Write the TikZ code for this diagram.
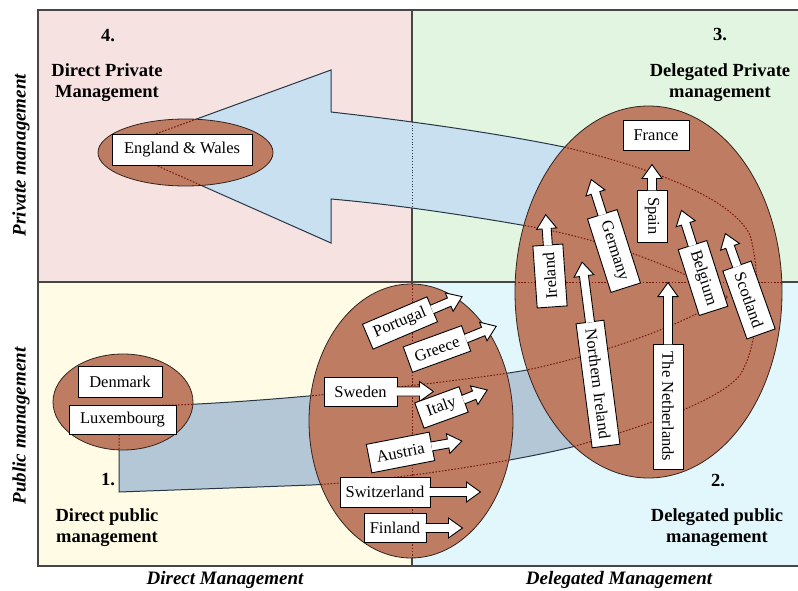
\documentclass[tikz,border=0pt]{standalone}
\usepackage{fontspec}
\setmainfont{Liberation Serif}

\definecolor{qpink}{RGB}{247,226,226}
\definecolor{qgreen}{RGB}{226,245,224}
\definecolor{qyellow}{RGB}{255,251,228}
\definecolor{qcyan}{RGB}{226,247,251}
\definecolor{blob}{RGB}{190,124,98}
\definecolor{blobline}{RGB}{50,35,30}
\definecolor{arrowtop}{RGB}{200,224,240}
\definecolor{arrowlow}{RGB}{180,199,215}
\definecolor{arrowline}{RGB}{40,55,70}
\definecolor{hiddenred}{RGB}{120,25,15}
\definecolor{frameline}{RGB}{70,70,70}

% outline of the large U-turn arrow (band from group 1, back to group 4)
\def\bigarrow{(117,148) -- (331,70) -- (331,112)
  .. controls (420,122) and (500,134) .. (564,147)
  .. controls (640,165) and (730,195) .. (750,235)
  .. controls (760,270) and (762,340) .. (740,375)
  .. controls (720,400) and (650,425) .. (572,447)
  .. controls (520,460) and (400,480) .. (312,485)
  -- (119,492) -- (119,406) -- (176,405)
  .. controls (300,400) and (470,380) .. (527,370)
  .. controls (620,350) and (690,320) .. (728,297)
  .. controls (700,280) and (630,245) .. (533,227)
  .. controls (470,216) and (400,205) .. (331,199)
  -- (331,243) -- cycle}

% block arrow leaving a country tag: node, anchor, direction, length
\newcommand{\tagarrow}[4]{%
  \begin{scope}[shift={(#1.#2)}, rotate=#3]
    \path[tagarrowshape] (-0.8,4.5) -- ({#4-14},4.5) -- ({#4-14},10) -- (#4,0)
      -- ({#4-14},-10) -- ({#4-14},-4.5) -- (-0.8,-4.5);
  \end{scope}}

\begin{document}
\begin{tikzpicture}[x=1pt, y=-1pt,
  every node/.style={inner sep=0pt},
  cbox/.style={draw=black, line width=0.9pt, fill=white,
    font=\fontsize{16.5}{18}\selectfont},
  tagarrowshape/.style={draw=black, line width=0.9pt, fill=white, line join=miter},
  heading/.style={font=\fontsize{18.5}{21}\selectfont\bfseries, align=center},
  axislabel/.style={font=\fontsize{19}{21}\selectfont\bfseries\itshape},
  blobshape/.style={fill=blob, draw=blobline, line width=0.8pt},
  hiddenline/.style={draw=hiddenred, line width=1pt, dash pattern=on 1.6pt off 1.6pt},
]
\useasboundingbox (0,0) rectangle (798,591);

% quadrants
\fill[qpink]   (38,10)  rectangle (412,282);
\fill[qgreen]  (412,10) rectangle (798,282);
\fill[qyellow] (38,282) rectangle (412,566);
\fill[qcyan]   (412,282) rectangle (798,566);
\draw[frameline, line width=1.3pt] (798,10) -- (38,10) -- (38,566) -- (798,566);
\draw[frameline, line width=1.1pt] (412,10) -- (412,566) (38,282) -- (798,282);

% large arrow
\begin{scope}
  \clip (0,0) rectangle (798,282);
  \fill[arrowtop] \bigarrow;
\end{scope}
\begin{scope}
  \clip (0,282) rectangle (798,591);
  \fill[arrowlow] \bigarrow;
\end{scope}
\begin{scope}
  \clip \bigarrow;
  \draw[arrowline, line width=0.8pt, dotted] (412,10) -- (412,566);
\end{scope}
\draw[arrowline, line width=1pt, line join=miter] \bigarrow;

% country groups
\path[blobshape] (185.5,152.5) ellipse [x radius=87.5, y radius=33.5];
\path[blobshape] (123,402) ellipse [x radius=70, y radius=48];
\path[blobshape] (411,421) ellipse [x radius=102, y radius=137];
\path[blobshape] (648.5,292) ellipse [x radius=133.5, y radius=186];

% lines running behind the groups
\begin{scope}
  \clip (185.5,152.5) ellipse [x radius=87.5, y radius=33.5]
        (123,402) ellipse [x radius=70, y radius=48]
        (411,421) ellipse [x radius=102, y radius=137]
        (648.5,292) ellipse [x radius=133.5, y radius=186];
  \path[hiddenline] \bigarrow;
  \path[hiddenline] (412,10) -- (412,566) (38,282) -- (798,282);
\end{scope}

% direct private management
\node[cbox, minimum width=140pt, minimum height=31pt] (ew) at (182,149.5) {England \& Wales};

% direct public management
\node[cbox, minimum width=84pt, minimum height=31pt] (denmark) at (120,382) {Denmark};
\node[cbox, minimum width=107pt, minimum height=29pt] (luxembourg) at (122.5,419.5) {Luxembourg};

% moving towards delegation
\node[cbox, rotate=23, minimum width=70pt, minimum height=27pt] (portugal) at (400,323) {Portugal};
\tagarrow{portugal}{east}{23}{32}
\node[cbox, rotate=20, minimum width=62pt, minimum height=27pt] (greece) at (437,349) {Greece};
\tagarrow{greece}{east}{22}{32}
\node[cbox, minimum width=73pt, minimum height=29pt] (sweden) at (360.5,391.5) {Sweden};
\tagarrow{sweden}{east}{0}{36}
\node[cbox, rotate=20, minimum width=47pt, minimum height=27pt] (italy) at (441.5,407.5) {Italy};
\tagarrow{italy}{east}{22}{25}
\node[cbox, rotate=11, minimum width=64pt, minimum height=29pt] (austria) at (400.5,452.5) {Austria};
\tagarrow{austria}{east}{10}{30}
\node[cbox, minimum width=90pt, minimum height=30pt] (switzerland) at (385,492) {Switzerland};
\tagarrow{switzerland}{east}{0}{50}
\node[cbox, minimum width=62pt, minimum height=29pt] (finland) at (395,528) {Finland};
\tagarrow{finland}{east}{0}{36}

% delegated management, moving towards private
\node[cbox, minimum width=66pt, minimum height=30pt] (france) at (656,135) {France};
\node[cbox, rotate=-90, minimum width=52pt, minimum height=30pt] (spain) at (652,216) {Spain};
\tagarrow{spain}{west}{90}{25}
\node[cbox, rotate=-72.3, minimum width=77pt, minimum height=31pt] (germany) at (614,251) {Germany};
\tagarrow{germany}{west}{107.7}{36}
\node[cbox, rotate=94, minimum width=62pt, minimum height=30pt] (ireland) at (550,276) {Ireland};
\tagarrow{ireland}{east}{94}{30}
\node[cbox, rotate=-82.6, minimum width=125pt, minimum height=28pt] (nireland) at (598,384) {Northern Ireland};
\tagarrow{nireland}{west}{97.4}{60}
\node[cbox, rotate=-90, minimum width=125pt, minimum height=30pt] (netherlands) at (668,406.5) {The Netherlands};
\tagarrow{netherlands}{west}{90}{61}
\node[cbox, rotate=-72.3, minimum width=69pt, minimum height=30pt] (belgium) at (703,278) {Belgium};
\tagarrow{belgium}{west}{107.7}{36}
\node[cbox, rotate=-70.4, minimum width=72pt, minimum height=30pt] (scotland) at (749,300) {Scotland};
\tagarrow{scotland}{west}{109.6}{34}

% quadrant titles
\node[heading] (num4) at (108,36) {4.};
\node[heading] (title4) at (107,82.5) {Direct Private\\Management};
\node[heading] (num3) at (720,35) {3.};
\node[heading] (title3) at (720,82.5) {Delegated Private\\management};
\node[heading] (num1) at (108,480) {1.};
\node[heading] (title1) at (107,527.5) {Direct public\\management};
\node[heading] (num2) at (718,481) {2.};
\node[heading] (title2) at (717,527.5) {Delegated public\\management};

% axes
\node[axislabel, rotate=90] (ytop) at (21,155) {Private management};
\node[axislabel, rotate=90] (ybot) at (21,426) {Public management};
\node[axislabel] (xleft) at (225,580) {Direct Management};
\node[axislabel] (xright) at (619,580) {Delegated Management};
\end{tikzpicture}
\end{document}
